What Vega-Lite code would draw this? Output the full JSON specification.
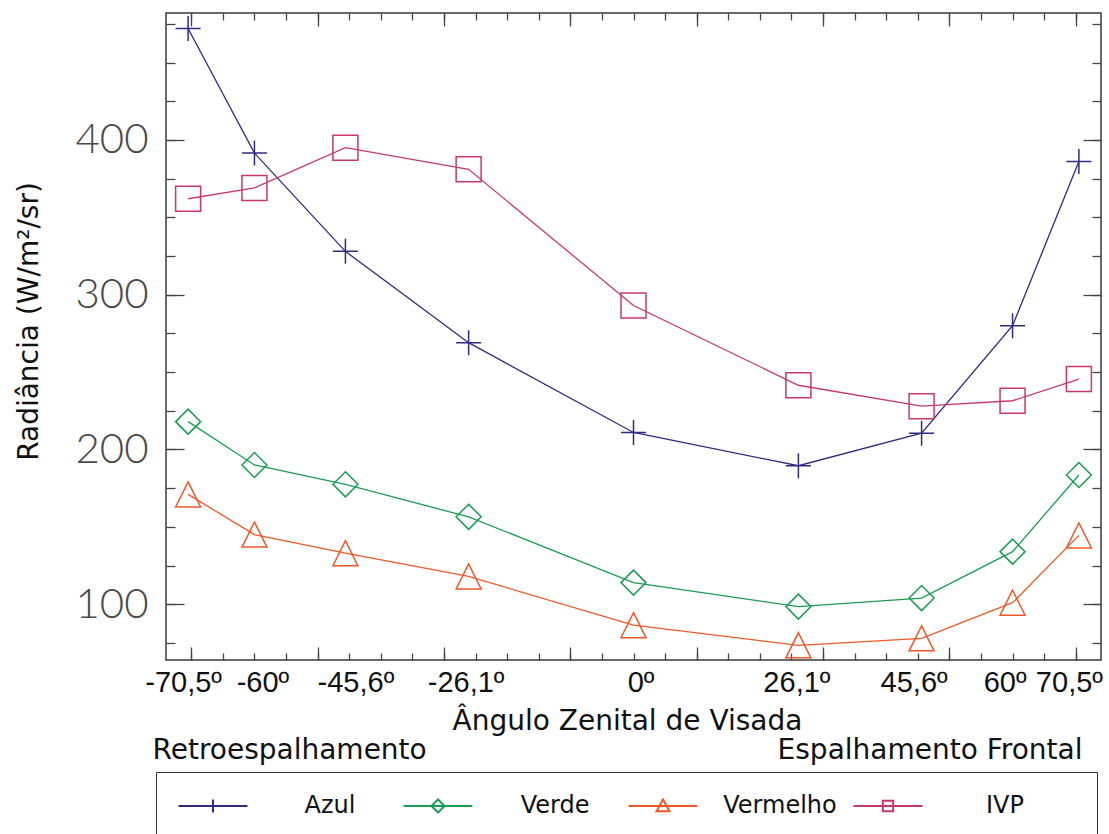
{
  "$schema": "https://vega.github.io/schema/vega-lite/v6.json",
  "width": 935,
  "height": 647,
  "autosize": {"type": "none"},
  "padding": {"left": 166, "top": 13, "right": 8, "bottom": 174},
  "background": "white",
  "config": {"view": {"stroke": "#3a3a3a", "strokeWidth": 1.5}, "font": "DejaVu Sans", "axis": {"tickColor": "#444", "tickWidth": 1.3, "domain": false, "grid": false}},
  "data": {"values": [
    {"serie": "Azul", "angulo": -70.5, "radiancia": 472},
    {"serie": "Azul", "angulo": -60, "radiancia": 391.5},
    {"serie": "Azul", "angulo": -45.6, "radiancia": 328},
    {"serie": "Azul", "angulo": -26.1, "radiancia": 269},
    {"serie": "Azul", "angulo": 0, "radiancia": 211},
    {"serie": "Azul", "angulo": 26.1, "radiancia": 189.5},
    {"serie": "Azul", "angulo": 45.6, "radiancia": 210.5},
    {"serie": "Azul", "angulo": 60, "radiancia": 280},
    {"serie": "Azul", "angulo": 70.5, "radiancia": 386},
    {"serie": "Verde", "angulo": -70.5, "radiancia": 218},
    {"serie": "Verde", "angulo": -60, "radiancia": 190},
    {"serie": "Verde", "angulo": -45.6, "radiancia": 177.5},
    {"serie": "Verde", "angulo": -26.1, "radiancia": 156.5},
    {"serie": "Verde", "angulo": 0, "radiancia": 114},
    {"serie": "Verde", "angulo": 26.1, "radiancia": 98.5},
    {"serie": "Verde", "angulo": 45.6, "radiancia": 104},
    {"serie": "Verde", "angulo": 60, "radiancia": 134},
    {"serie": "Verde", "angulo": 70.5, "radiancia": 183.5},
    {"serie": "Vermelho", "angulo": -70.5, "radiancia": 171},
    {"serie": "Vermelho", "angulo": -60, "radiancia": 145},
    {"serie": "Vermelho", "angulo": -45.6, "radiancia": 133},
    {"serie": "Vermelho", "angulo": -26.1, "radiancia": 118},
    {"serie": "Vermelho", "angulo": 0, "radiancia": 86.5},
    {"serie": "Vermelho", "angulo": 26.1, "radiancia": 73.5},
    {"serie": "Vermelho", "angulo": 45.6, "radiancia": 78},
    {"serie": "Vermelho", "angulo": 60, "radiancia": 101},
    {"serie": "Vermelho", "angulo": 70.5, "radiancia": 144.5},
    {"serie": "IVP", "angulo": -70.5, "radiancia": 362},
    {"serie": "IVP", "angulo": -60, "radiancia": 369},
    {"serie": "IVP", "angulo": -45.6, "radiancia": 395},
    {"serie": "IVP", "angulo": -26.1, "radiancia": 381},
    {"serie": "IVP", "angulo": 0, "radiancia": 293},
    {"serie": "IVP", "angulo": 26.1, "radiancia": 241.5},
    {"serie": "IVP", "angulo": 45.6, "radiancia": 228},
    {"serie": "IVP", "angulo": 60, "radiancia": 231.5},
    {"serie": "IVP", "angulo": 70.5, "radiancia": 245.5}
  ]},
  "encoding": {
    "color": {
      "field": "serie", "type": "nominal",
      "scale": {"domain": ["Azul", "Verde", "Vermelho", "IVP"], "range": ["#2e2b80", "#1a9d50", "#f0582a", "#c8386f"]},
      "legend": {
        "orient": "none", "legendX": -10, "legendY": 759,
        "direction": "horizontal", "columns": 4, "gridAlign": "all",
        "title": " ", "titleOrient": "right", "titlePadding": 51, "titleFontSize": 10,
        "symbolSize": 169, "symbolStrokeWidth": 2, "symbolOffset": 23,
        "labelFont": "DejaVu Sans", "labelFontSize": 24, "labelColor": "#111",
        "labelOffset": 105, "labelAlign": "center", "labelLimit": 300,
        "columnPadding": 12, "padding": 22, "strokeColor": "#333",
        "encode": {"symbols": {"update": {
          "shape": {"signal": "datum.value === 'Azul' ? 'M -5.3 0 L 5.3 0 M 0 -1 L 0 1' : datum.value === 'Verde' ? 'M -5.3 0 L 5.3 0 M -1 0 L 0 -1 L 1 0 L 0 1 Z' : datum.value === 'Vermelho' ? 'M -5.3 0 L 5.3 0 M 0 -1 L 1 0.8 L -1 0.8 Z' : 'M -5.3 0 L 5.3 0 M -0.8 -0.8 L 0.8 -0.8 L 0.8 0.8 L -0.8 0.8 Z'"},
          "fill": {"value": "transparent"},
          "strokeWidth": {"value": 2},
          "opacity": {"value": 1}
        }}}
      }
    }
  },
  "layer": [
    {
      "mark": {"type": "line", "strokeWidth": 1.3},
      "encoding": {
        "x": {
          "field": "angulo", "type": "quantitative",
          "scale": {"domain": [-74, 74], "nice": false, "zero": false},
          "axis": {
            "orient": "bottom",
            "values": [-70.5, -60, -45.6, -26.1, 0, 26.1, 45.6, 60, 70.5],
            "ticks": false,
            "labelExpr": "replace('' + datum.value, '.', ',') + 'º'",
            "labelFont": "Liberation Sans", "labelFontSize": 29, "labelColor": "#111",
            "labelPadding": 8, "labelOverlap": false, "labelFlush": false, "labelBound": false,
            "labelOffset": {"expr": "datum.value === -70.5 ? -5 : datum.value === -60 ? 8 : datum.value === -45.6 ? 10 : datum.value === -26.1 ? -3 : datum.value === 0 ? 7 : datum.value === 26.1 ? -2 : datum.value === 70.5 ? -10 : -8"},
            "title": "Ângulo Zenital de Visada",
            "titleFont": "DejaVu Sans", "titleFontSize": 28, "titleFontWeight": "normal", "titleColor": "#111",
            "titleX": 461, "titleAlign": "center", "titleY": 69, "titleBaseline": "alphabetic"
          }
        },
        "y": {
          "field": "radiancia", "type": "quantitative",
          "scale": {"domain": [64, 482], "nice": false, "zero": false},
          "axis": {
            "orient": "left",
            "values": [100, 200, 300, 400],
            "ticks": false,
            "labelFont": "Lato", "labelFontWeight": 300, "labelFontSize": 42, "labelColor": "#4a4a4a",
            "labelPadding": 18, "labelOverlap": false, "labelFlush": false, "labelBound": false,
            "title": "Radiância (W/m²/sr)",
            "titleFont": "DejaVu Sans", "titleFontSize": 28, "titleFontWeight": "normal", "titleColor": "#111",
            "titleX": -129, "titleY": 308, "titleBaseline": "alphabetic", "titleAngle": -90
          }
        }
      }
    },
    {
      "mark": {"type": "point", "filled": false, "strokeWidth": 1.5, "size": 625, "opacity": 1},
      "encoding": {
        "x": {
          "field": "angulo", "type": "quantitative",
          "scale": {"domain": [-74, 74], "nice": false, "zero": false},
          "axis": {
            "orient": "bottom",
            "values": [-70, -65, -60, -55, -50, -45, -40, -35, -30, -25, -20, -15, -10, -5, 0, 5, 10, 15, 20, 25, 30, 35, 40, 45, 50, 55, 60, 65, 70],
            "labels": false, "tickSize": -7,
            "title": "Retroespalhamento",
            "titleFont": "DejaVu Sans", "titleFontSize": 28, "titleFontWeight": "normal", "titleColor": "#111",
            "titleX": -14, "titleY": 98, "titleAlign": "left", "titleBaseline": "alphabetic"
          }
        },
        "y": {
          "field": "radiancia", "type": "quantitative",
          "scale": {"domain": [64, 482], "nice": false, "zero": false},
          "axis": {
            "orient": "left",
            "values": [100, 200, 300, 400],
            "labels": false, "tickSize": -18, "title": null
          }
        },
        "shape": {
          "field": "serie", "type": "nominal",
          "scale": {"domain": ["IVP", "Azul", "Verde", "Vermelho"], "range": ["M -1 -1 L 1 -1 L 1 1 L -1 1 Z", "M -1 0 L 1 0 M 0 -1 L 0 1", "M -1 0 L 0 -1 L 1 0 L 0 1 Z", "M 0 -1 L 1 1 L -1 1 Z"]},
          "legend": null
        }
      }
    },
    {
      "mark": {"type": "point", "opacity": 0},
      "encoding": {
        "x": {
          "field": "angulo", "type": "quantitative",
          "scale": {"domain": [-74, 74], "nice": false, "zero": false},
          "axis": {
            "orient": "bottom",
            "values": [-70, -50, -30, -10, 10, 30, 50, 70],
            "labels": false, "tickSize": -13, "title": null
          }
        },
        "y": {
          "field": "radiancia", "type": "quantitative",
          "scale": {"domain": [64, 482], "nice": false, "zero": false},
          "axis": {
            "orient": "left",
            "values": [75, 100, 125, 150, 175, 200, 225, 250, 275, 300, 325, 350, 375, 400, 425, 450, 475],
            "labels": false, "tickSize": -9, "title": null
          }
        }
      }
    },
    {
      "mark": {"type": "point", "opacity": 0},
      "encoding": {
        "x": {
          "field": "angulo", "type": "quantitative",
          "scale": {"domain": [-74, 74], "nice": false, "zero": false},
          "axis": {
            "orient": "top",
            "values": [-70, -65, -60, -55, -50, -45, -40, -35, -30, -25, -20, -15, -10, -5, 0, 5, 10, 15, 20, 25, 30, 35, 40, 45, 50, 55, 60, 65, 70],
            "labels": false, "tickSize": -7,
            "title": "Espalhamento Frontal",
            "titleFont": "DejaVu Sans", "titleFontSize": 28, "titleFontWeight": "normal", "titleColor": "#111",
            "titleX": 916, "titleY": 745, "titleAlign": "right", "titleBaseline": "alphabetic"
          }
        },
        "y": {
          "field": "radiancia", "type": "quantitative",
          "scale": {"domain": [64, 482], "nice": false, "zero": false},
          "axis": {
            "orient": "right",
            "values": [100, 200, 300, 400],
            "labels": false, "tickSize": -18, "title": null
          }
        }
      }
    },
    {
      "mark": {"type": "point", "opacity": 0},
      "encoding": {
        "x": {
          "field": "angulo", "type": "quantitative",
          "scale": {"domain": [-74, 74], "nice": false, "zero": false},
          "axis": {
            "orient": "top",
            "values": [-70, -50, -30, -10, 10, 30, 50, 70],
            "labels": false, "tickSize": -13, "title": null
          }
        },
        "y": {
          "field": "radiancia", "type": "quantitative",
          "scale": {"domain": [64, 482], "nice": false, "zero": false},
          "axis": {
            "orient": "right",
            "values": [75, 100, 125, 150, 175, 200, 225, 250, 275, 300, 325, 350, 375, 400, 425, 450, 475],
            "labels": false, "tickSize": -9, "title": null
          }
        }
      }
    }
  ],
  "resolve": {"axis": {"x": "independent", "y": "independent"}}
}
